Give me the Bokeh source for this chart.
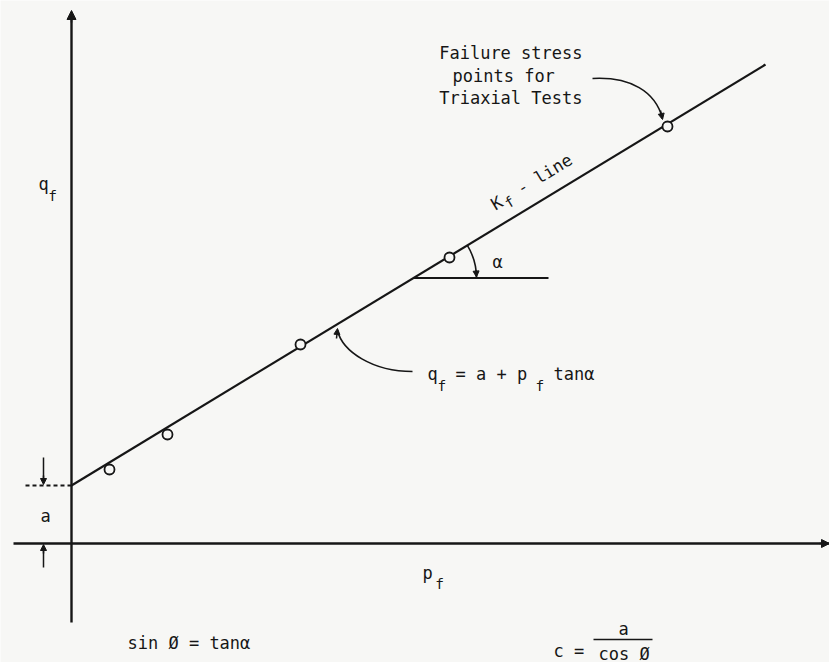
import math

from bokeh.core.properties import value
from bokeh.embed import file_html
from bokeh.models import Arrow, NormalHead, Range1d
from bokeh.plotting import figure
from bokeh.resources import INLINE

# Failure stress points from the triaxial tests (p_f, q_f)
p_f_points = [38, 96, 229, 378, 596]
q_f_points = [74, 109, 199, 286, 417]

# K_f-line:  q_f = a + p_f * tan(alpha)
a_intercept = 58
tan_alpha = 0.6066
p_line = [0, 694]

# extent of the drawn p_f and q_f axes
p_axis = [-58, 758]
q_axis = [-79, 533]

# where the angle alpha is marked on the K_f-line
p_vertex = 342
angle_ray = 135
angle_radius = 63

INK = "#161616"
PAPER = "#f7f7f5"
FONT = value("DejaVu Sans Mono")
SIZE = "17px"
SUB = "14.5px"

p = figure(width=829, height=662, output_backend="svg", toolbar_location=None,
           x_range=Range1d(-71, 758), y_range=Range1d(-119, 543),
           min_border=0, background_fill_color=PAPER, border_fill_color=PAPER)
p.axis.visible = False
p.grid.visible = False
p.outline_line_color = None


def label(x, y, s, size=SIZE, align="left", baseline="middle", angle=0.0):
    p.text(x=[x], y=[y], text=[s], text_font=FONT, text_font_size=size,
           text_align=align, text_baseline=baseline, text_color=INK, angle=angle)


def head(x0, y0, x1, y1, size=8):
    p.add_layout(Arrow(x_start=x0, y_start=y0, x_end=x1, y_end=y1,
                       line_color=INK, line_width=1.5,
                       end=NormalHead(size=size, fill_color=INK, line_color=INK, line_width=1)))


# coordinate axes
p.segment(x0=[p_axis[0]], y0=[0], x1=[p_axis[1]], y1=[0], line_color=INK, line_width=2.4)
p.segment(x0=[0], y0=[q_axis[0]], x1=[0], y1=[q_axis[1] - 4], line_color=INK, line_width=2.4)
head(0, q_axis[1] - 12, 0, q_axis[1], size=9)
head(p_axis[1] - 10, 0, p_axis[1], 0, size=8)

# K_f-line
q_line = [a_intercept + tan_alpha * x for x in p_line]
p.line(p_line, q_line, line_color=INK, line_width=2.2)

# test points
p.scatter(p_f_points, q_f_points, marker="circle", size=10, fill_color=PAPER,
          line_color=INK, line_width=1.8)

# intercept a: dashed level line and dimension arrows
p.segment(x0=[-46], y0=[a_intercept], x1=[0], y1=[a_intercept],
          line_color=INK, line_width=1.8, line_dash="4 3")
p.segment(x0=[-28], y0=[a_intercept + 28], x1=[-28], y1=[a_intercept + 6],
          line_color=INK, line_width=1.5)
head(-28, a_intercept + 10, -28, a_intercept + 1, size=6)
p.segment(x0=[-28], y0=[-24], x1=[-28], y1=[-6], line_color=INK, line_width=1.5)
head(-28, -10, -28, -1, size=6)
label(-26, 28, "a", align="center")

# angle alpha
theta = math.atan(tan_alpha)
q_vertex = a_intercept + tan_alpha * p_vertex
p.segment(x0=[p_vertex], y0=[q_vertex], x1=[p_vertex + angle_ray], y1=[q_vertex],
          line_color=INK, line_width=2.0)
p.arc(x=[p_vertex], y=[q_vertex], radius=angle_radius, start_angle=0.0, end_angle=theta,
      line_color=INK, line_width=1.6)
head(p_vertex + angle_radius - 0.5, q_vertex + 8, p_vertex + angle_radius, q_vertex + 1, size=6)
label(p_vertex + 84, q_vertex + 16, "α", align="center")

# K_f - line label, written along the line
ux, uy = math.cos(theta), math.sin(theta)
nx, ny = -uy, ux
bx, by = 421, 338
label(bx, by, "K", baseline="alphabetic", angle=theta)
label(bx + 12 * ux - 6 * nx, by + 12 * uy - 6 * ny, "f", size=SUB,
      baseline="alphabetic", angle=theta)
label(bx + 30 * ux, by + 30 * uy, "- line", baseline="alphabetic", angle=theta)

# callout to the equation of the line
p.bezier(x0=[341], y0=[172], x1=[266], y1=[213], cx0=[301], cy0=[172], cx1=[271], cy1=[192],
         line_color=INK, line_width=1.6)
head(265, 205, 266, 215, size=6)
label(356, 170, "q")
label(366, 158, "f", size=SUB)
label(384, 170, "= a + p")
label(464, 158, "f", size=SUB)
label(482, 170, "tanα")

# callout to the failure stress points
p.bezier(x0=[521], y0=[465], x1=[591], y1=[425], cx0=[559], cy0=[467], cx1=[584], cy1=[452],
         line_color=INK, line_width=1.6)
head(589, 433, 591, 424, size=6)
label(511, 491, "Failure stress", align="right")
label(381, 468, "points for")
label(511, 446, "Triaxial Tests", align="right")

# axis names
label(-28, 360, "q", align="center")
label(-19, 348, "f", size=SUB, align="center")
label(356, -29, "p", align="center")
label(368, -40, "f", size=SUB, align="center")

# relations below the chart
label(56, -99, "sin Ø = tanα")
label(482, -107, "c =")
label(552, -85, "a", align="center")
p.segment(x0=[522], y0=[-96], x1=[581], y1=[-96], line_color=INK, line_width=1.5)
label(527, -110, "cos Ø")

open("out.html", "w").write(file_html(p, INLINE))
